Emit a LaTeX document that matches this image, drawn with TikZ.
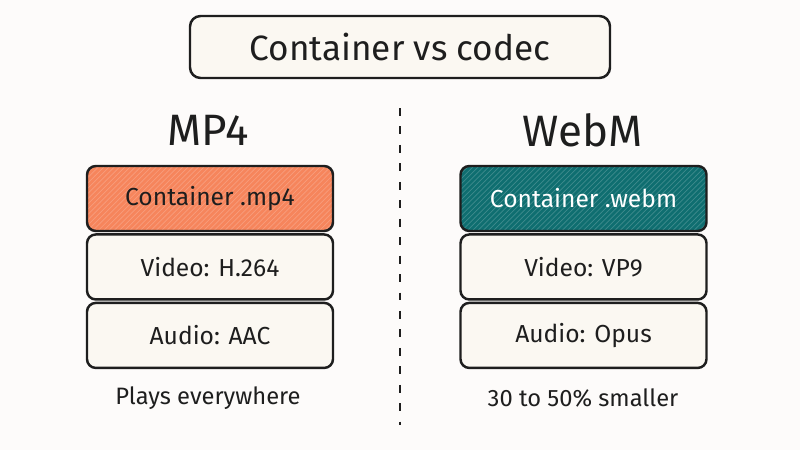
\documentclass[tikz,border=0pt]{standalone}
\usepackage{fontspec}
\setmainfont{Fira Sans}
\usetikzlibrary{positioning,patterns}

\definecolor{paper}{HTML}{FDFBFA}
\definecolor{boxfill}{HTML}{FBF8F2}
\definecolor{mpfour}{HTML}{F6855C}
\definecolor{webm}{HTML}{0F6E70}
\definecolor{ink}{HTML}{1E1E1E}

\begin{document}
\begin{tikzpicture}[
        node distance=0cm and 0cm,
        box/.style={rectangle, draw=ink, line width=1.4pt, rounded corners=5pt, fill=boxfill,
                    minimum width=4.92cm, minimum height=1.3cm, align=center, font=\fontsize{14}{16}\selectfont, text=ink},
        cont/.style={rectangle, draw=ink, line width=1.4pt, rounded corners=5pt,
                    minimum width=4.92cm, minimum height=1.3cm, align=center, font=\fontsize{14}{16}\selectfont, text=ink,
                    preaction={fill=#1}, pattern=north east lines, pattern color=#1!80!white},
        head/.style={font=\fontsize{25}{28}\selectfont, text=ink},
        note/.style={font=\fontsize{13.5}{16}\selectfont, text=ink},
        sep/.style={line width=1.1pt, ink, dash pattern=on 4.5pt off 6pt},
    ]
    \useasboundingbox[fill=paper] (0,0) rectangle (16,9);

    % ----- Title -----
    \node[box, minimum width=8.4cm, minimum height=1.24cm, rounded corners=6pt,
          font=\fontsize{20}{24}\selectfont] (title) at (8,8.06) {Container vs codec};

    % ----- MP4 -----
    \node[head] (mp4) at (4.16,6.4) {MP4};
    \node[cont=mpfour] (mp4cont) at (4.2,5.03) {Container .mp4};
    \node[box, below=0.02cm of mp4cont] (mp4video) {Video: H.264};
    \node[box, below=0.02cm of mp4video] (mp4audio) {Audio: AAC};
    \node[note] (mp4note) at (4.16,1.04) {Plays everywhere};

    % ----- WebM -----
    \node[head] (webmhead) at (11.66,6.4) {WebM};
    \node[cont=webm, text=white] (webmcont) at (11.67,5.03) {Container .webm};
    \node[box, below=0.02cm of webmcont] (webmvideo) {Video: VP9};
    \node[box, below=0.02cm of webmvideo] (webmaudio) {Audio: Opus};
    \node[note] (webmnote) at (11.66,1.04) {30 to 50\% smaller};

    % ----- Divider -----
    \coordinate (divtop) at (8,6.84);
    \coordinate (divbot) at (8,0.5);
    \draw[sep] (divtop) -- (divbot);

\end{tikzpicture}
\end{document}
